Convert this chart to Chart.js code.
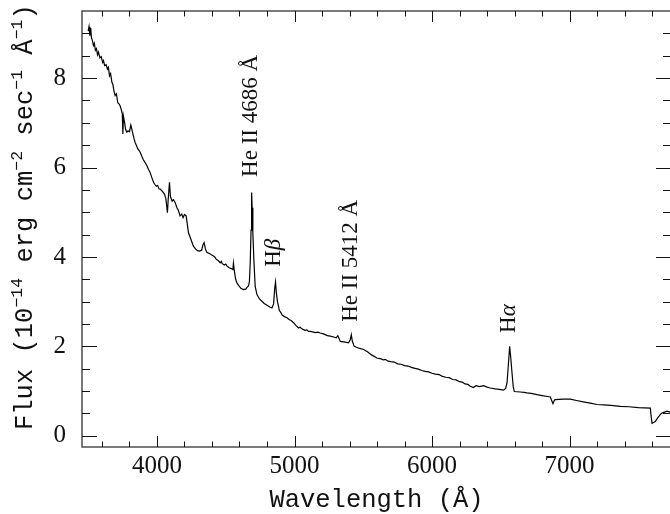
<!DOCTYPE html>
<html>
<head>
<meta charset="utf-8">
<script src="https://cdn.jsdelivr.net/npm/chart.js@4.4.0/dist/chart.umd.min.js"></script>
<style>
  html, body { margin: 0; padding: 0; background: #fff; overflow: hidden; }
  canvas { display: block; }
</style>
</head>
<body>
<canvas id="spectrum" width="672" height="514"></canvas>
<script>
// spectrum (Angstrom, 1e-14 erg/cm2/s/A)
const wavelength = [
  3500, 3506, 3512, 3518, 3524, 3530, 3538, 3545, 3552, 3560, 3568, 3575, 3585, 3595, 3605, 3611,
  3620, 3630, 3640, 3647, 3655, 3663, 3672, 3680, 3688, 3696, 3705, 3715, 3725, 3732, 3740, 3748,
  3752, 3756, 3765, 3772, 3781, 3790, 3800, 3810, 3817, 3825, 3833, 3841, 3850, 3860, 3870, 3878,
  3890, 3900, 3914, 3925, 3940, 3950, 3962, 3975, 3985, 3995, 4005, 4015, 4023, 4035, 4047, 4055,
  4065, 4076, 4082, 4091, 4098, 4110, 4120, 4132, 4145, 4155, 4168, 4180, 4190, 4200, 4212, 4220,
  4229, 4240, 4252, 4265, 4280, 4295, 4310, 4325, 4335, 4343, 4352, 4363, 4380, 4395, 4411, 4420,
  4430, 4445, 4460, 4468, 4475, 4490, 4500, 4508, 4525, 4540, 4552, 4556, 4562, 4572, 4581, 4595,
  4610, 4629, 4645, 4655, 4665, 4672, 4678, 4684, 4688, 4692, 4697, 4705, 4714, 4727, 4745, 4763,
  4780, 4800, 4820, 4836, 4848, 4856, 4862, 4868, 4876, 4890, 4900, 4910, 4930, 4945, 4960, 4975,
  4993, 5010, 5029, 5040, 5050, 5075, 5090, 5100, 5125, 5150, 5170, 5187, 5210, 5240, 5260, 5285,
  5303, 5315, 5333, 5360, 5393, 5405, 5413, 5420, 5434, 5460, 5480, 5502, 5530, 5560, 5599, 5630,
  5645, 5660, 5680, 5700, 5725, 5750, 5775, 5800, 5825, 5850, 5875, 5900, 5925, 5950, 5975, 6000,
  6025, 6050, 6075, 6100, 6125, 6150, 6175, 6200, 6220, 6240, 6260, 6278, 6300, 6320, 6345, 6375,
  6400, 6423, 6460, 6490, 6520, 6535, 6545, 6555, 6564, 6572, 6581, 6590, 6598, 6640, 6670, 6690,
  6720, 6763, 6800, 6840, 6860, 6868, 6879, 6890, 6896, 6950, 7005, 7050, 7100, 7150, 7199, 7250,
  7300, 7369, 7430, 7500, 7587, 7592, 7599, 7610, 7623, 7640, 7660, 7672, 7690, 7708, 7730
];
const flux = [
  9.05, 9.15, 8.95, 9.12, 8.90, 8.85, 8.73, 8.78, 8.62, 8.66, 8.52, 8.58, 8.45, 8.48, 8.35, 8.39,
  8.28, 8.30, 8.20, 8.24, 8.05, 8.10, 7.91, 7.85, 7.70, 7.61, 7.65, 7.45, 7.42, 7.38, 7.30, 7.20,
  6.75, 7.15, 7.00, 6.85, 6.79, 6.82, 6.80, 6.95, 6.86, 6.75, 6.65, 6.56, 6.50, 6.42, 6.38, 6.34,
  6.25, 6.18, 6.11, 6.05, 5.95, 5.89, 5.78, 5.67, 5.62, 5.58, 5.60, 5.52, 5.52, 5.48, 5.44, 5.40,
  5.30, 4.99, 5.30, 5.67, 5.35, 5.25, 5.28, 5.22, 5.10, 5.05, 4.92, 4.96, 4.88, 4.95, 4.92, 4.75,
  4.54, 4.45, 4.35, 4.24, 4.18, 4.14, 4.13, 4.15, 4.28, 4.32, 4.18, 4.10, 4.08, 4.05, 4.02, 4.00,
  3.95, 3.92, 3.87, 3.90, 3.85, 3.82, 3.84, 3.80, 3.76, 3.74, 3.72, 3.86, 3.70, 3.50, 3.42, 3.36,
  3.30, 3.27, 3.28, 3.32, 3.35, 3.45, 3.87, 4.60, 5.44, 5.10, 4.55, 3.90, 3.34, 3.16, 3.06, 3.01,
  2.96, 2.92, 2.88, 2.86, 2.95, 3.30, 3.44, 3.20, 3.00, 2.80, 2.76, 2.70, 2.66, 2.64, 2.60, 2.58,
  2.53, 2.47, 2.41, 2.43, 2.40, 2.36, 2.37, 2.34, 2.33, 2.31, 2.32, 2.30, 2.28, 2.24, 2.23, 2.21,
  2.19, 2.24, 2.11, 2.10, 2.08, 2.15, 2.26, 2.12, 2.00, 1.97, 1.95, 1.93, 1.88, 1.81, 1.74, 1.72,
  1.70, 1.71, 1.67, 1.66, 1.65, 1.61, 1.60, 1.57, 1.56, 1.53, 1.51, 1.49, 1.46, 1.44, 1.43, 1.40,
  1.38, 1.37, 1.33, 1.31, 1.30, 1.26, 1.25, 1.21, 1.20, 1.16, 1.15, 1.11, 1.08, 1.12, 1.10, 1.12,
  1.09, 1.07, 1.05, 1.04, 1.02, 1.06, 1.19, 1.60, 2.00, 1.75, 1.41, 1.10, 0.99, 0.98, 0.97, 0.96,
  0.95, 0.92, 0.90, 0.88, 0.87, 0.80, 0.72, 0.80, 0.81, 0.82, 0.82, 0.79, 0.76, 0.73, 0.70, 0.69,
  0.68, 0.66, 0.65, 0.63, 0.62, 0.45, 0.28, 0.30, 0.32, 0.40, 0.48, 0.51, 0.53, 0.55, 0.53
];
const xTickLabels = [4000, 5000, 6000, 7000];
const yTickLabels = [0, 2, 4, 6, 8];
// line ids, anchored at (wavelength, flux) where the rotated text starts
const lineLabels = [
  { parts: [["He II 4686 Å", false]], x: 4725, y: 5.79 },
  { parts: [["H", false], ["β", true]], x: 4896, y: 3.78 },
  { parts: [["He II 5412 Å", false]], x: 5452, y: 2.55 },
  { parts: [["H", false], ["α", true]], x: 6604, y: 2.30 }
];

const axesPlugin = {
  id: "axes",
  afterDraw(chart) {
    const { ctx, chartArea: a } = chart;
    const xs = chart.scales.x, ys = chart.scales.y;
    const seg = (x1, y1, x2, y2) => { ctx.beginPath(); ctx.moveTo(x1, y1); ctx.lineTo(x2, y2); ctx.stroke(); };
    ctx.save();
    ctx.strokeStyle = "#333";
    ctx.lineWidth = 1.3;
    ctx.strokeRect(a.left, a.top, a.right - a.left, a.bottom - a.top);

    ctx.strokeStyle = "#111";
    ctx.lineWidth = 1;
    for (let v = 3600; v <= xs.max; v += 200) {
      const px = Math.round(xs.getPixelForValue(v)) + 0.5;
      const len = v % 1000 === 0 ? 11 : 5.5;
      seg(px, a.bottom, px, a.bottom - len);
      seg(px, a.top, px, a.top + len);
    }
    for (let v = 0; v <= 9; v += 0.5) {
      const py = Math.round(ys.getPixelForValue(v)) + 0.5;
      const len = v % 2 === 0 ? 15 : 8;
      seg(a.left, py, a.left + len, py);
      seg(a.right, py, a.right - len, py);
    }

    ctx.fillStyle = "#111";
    ctx.font = "25px 'Liberation Serif'";
    ctx.textAlign = "center";
    ctx.textBaseline = "alphabetic";
    xTickLabels.forEach(v => ctx.fillText(String(v), xs.getPixelForValue(v), 473));
    ctx.textAlign = "right";
    ctx.textBaseline = "middle";
    yTickLabels.forEach(v => ctx.fillText(String(v), 66, ys.getPixelForValue(v)));

    // axis titles
    ctx.font = "25.5px 'Liberation Mono'";
    ctx.textAlign = "center";
    ctx.textBaseline = "alphabetic";
    ctx.fillText("Wavelength (Å)", (a.left + a.right) / 2, 507);

    ctx.save();
    ctx.translate(32, 430);
    ctx.rotate(-Math.PI / 2);
    ctx.textAlign = "left";
    let cx = 0;
    const yTitle = [["Flux (10", false], ["−14", true], [" erg cm", false], ["−2", true],
                    [" sec", false], ["−1", true], [" Å", false], ["−1", true], [")", false]];
    yTitle.forEach(([t, sup]) => {
      ctx.font = sup ? "16.5px 'Liberation Mono'" : "25.5px 'Liberation Mono'";
      ctx.fillText(t, cx, sup ? -10 : 0);
      cx += ctx.measureText(t).width;
    });
    ctx.restore();

    // emission line labels
    lineLabels.forEach(lb => {
      ctx.save();
      ctx.translate(xs.getPixelForValue(lb.x), ys.getPixelForValue(lb.y));
      ctx.rotate(-Math.PI / 2);
      ctx.textAlign = "left";
      let px = 0;
      lb.parts.forEach(([t, it]) => {
        ctx.font = (it ? "italic " : "") + "23px 'Liberation Serif'";
        ctx.fillText(t, px, 0);
        px += ctx.measureText(t).width;
      });
      ctx.restore();
    });
    ctx.restore();
  }
};

const chart = new Chart(document.getElementById("spectrum"), {
  type: "line",
  data: {
    datasets: [{
      data: wavelength.map((w, i) => ({ x: w, y: flux[i] })),
      borderColor: "#000",
      borderWidth: 1.2,
      pointRadius: 0,
      tension: 0,
      fill: false
    }]
  },
  options: {
    responsive: false,
    animation: false,
    layout: { padding: { left: 82, top: 11, right: 1, bottom: 67 } },
    plugins: { legend: { display: false }, tooltip: { enabled: false } },
    scales: {
      x: { type: "linear", min: 3455, max: 7737, display: false },
      y: { min: -0.25, max: 9.5, display: false }
    }
  },
  plugins: [axesPlugin]
});
</script>
</body>
</html>
